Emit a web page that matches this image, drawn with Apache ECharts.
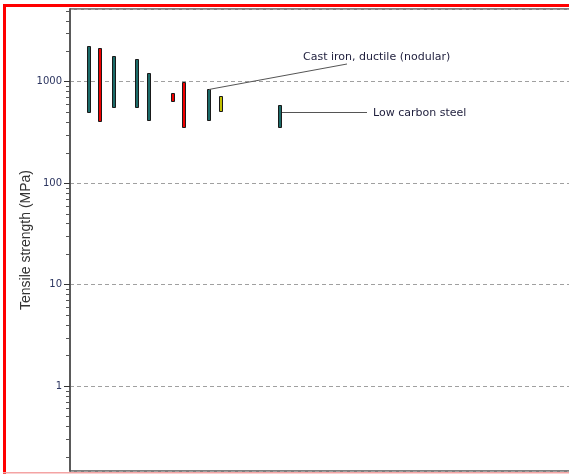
<!DOCTYPE html>
<html>
<head>
<meta charset="utf-8">
<script src="https://cdn.jsdelivr.net/npm/echarts@6/dist/echarts.min.js"></script>
<style>
  html, body { margin: 0; padding: 0; background: #fff; overflow: hidden; }
  #chart { width: 569px; height: 474px; }
</style>
</head>
<body>
<div id="chart"></div>
<script>
// Strength ranges (MPa) of the plotted materials; each bar runs from low to high
const xPos    = [3.8, 6.0, 8.8, 13.4, 15.8, 20.6, 22.8, 27.8, 30.2, 42.0];
const lowMPa  = [490, 400, 550, 550, 410, 625, 350, 410, 500, 350];
const highMPa = [2250, 2130, 1790, 1660, 1220, 780, 1000, 850, 720, 590];
// colour group of each bar: 0 teal, 1 red, 2 yellow
const group   = [0, 1, 0, 0, 0, 1, 1, 0, 2, 0];

// Labelled materials: index of the bar and the strength where the leader meets it
const calloutText  = ['Cast iron, ductile (nodular)', 'Low carbon steel'];
const calloutItem  = [7, 9];
const calloutValue = [850, 500];

// Log axis: major ticks and value range
const yTicks = [1, 10, 100, 1000];
const yMin = 0.145, yMax = 5200;

const groupColors = ['#1b6b69', '#f00000', '#c2c000'];

const chart = echarts.init(document.getElementById('chart'), null, { renderer: 'canvas' });

// minor ticks at 2..9 times each power of ten inside the range
const minorTicks = [];
for (let d = 0.1; d <= 1000; d *= 10) {
  for (let m = 2; m <= 9; m++) {
    const v = +(m * d).toPrecision(6);
    if (v > yMin && v < yMax) minorTicks.push([0, v]);
  }
}

const barData = xPos.map((x, i) => [x, lowMPa[i], highMPa[i], group[i]]);

chart.setOption({
  animation: false,
  backgroundColor: '#fff',
  grid: {
    left: 70, top: 9, right: -6, bottom: 3,
    outerBoundsMode: 'none',
    show: true, borderColor: '#000', borderWidth: 1, backgroundColor: 'transparent'
  },
  xAxis: {
    type: 'value', min: 0, max: 101,
    axisLine: { show: false }, axisTick: { show: false },
    axisLabel: { show: false }, splitLine: { show: false }
  },
  yAxis: {
    type: 'log', logBase: 10, min: yMin, max: yMax,
    name: 'Tensile strength (MPa)',
    nameLocation: 'middle', nameGap: 37, nameRotate: 90,
    nameMoveOverlap: false,
    nameTextStyle: { fontFamily: 'Liberation Sans', fontSize: 14, color: '#333' },
    axisLine: { show: true, lineStyle: { color: '#5a5a5a', width: 2 } },
    axisTick: { show: true, length: 6, lineStyle: { color: '#333', width: 1 } },
    axisLabel: {
      fontFamily: 'DejaVu Sans', fontSize: 10, color: '#2c3560', margin: 8,
      showMinLabel: false, showMaxLabel: false,
      formatter: v => {
        const r = +(+v).toPrecision(6);
        return yTicks.indexOf(r) >= 0 ? String(r) : '';
      }
    },
    splitLine: { show: true, lineStyle: { color: '#a0a0a0', type: [4, 3], width: 1 } }
  },
  series: [
    {
      type: 'custom',
      name: 'minor ticks',
      silent: true,
      clip: false,
      data: minorTicks,
      renderItem: (params, api) => {
        const p = api.coord([api.value(0), api.value(1)]);
        const y = Math.round(p[1]) + 0.5;
        return {
          type: 'line',
          shape: { x1: p[0] - 4, y1: y, x2: p[0], y2: y },
          style: { stroke: '#555', lineWidth: 1 }
        };
      }
    },
    {
      type: 'custom',
      name: 'strength',
      data: barData,
      encode: { x: 0, y: [1, 2] },
      renderItem: (params, api) => {
        const x = api.value(0);
        const top = api.coord([x, api.value(2)]);
        const bot = api.coord([x, api.value(1)]);
        const cx = Math.round(top[0]);
        const y0 = Math.round(top[1]) + 0.5;
        const y1 = Math.round(bot[1]) - 0.5;
        return {
          type: 'rect',
          shape: { x: cx - 1.5, y: y0, width: 3, height: y1 - y0 },
          style: { fill: groupColors[api.value(3)], stroke: '#1a1a1a', lineWidth: 1 }
        };
      }
    }
  ]
});

// Callout leaders and labels, anchored on the bars through the grid's scales
const anchor = i => chart.convertToPixel({ gridIndex: 0 }, [xPos[calloutItem[i]], calloutValue[i]]);
const a0 = anchor(0);
const a1 = anchor(1);
const leaderStyle = { stroke: '#555', lineWidth: 1 };
const labelStyle = { fontFamily: 'DejaVu Sans', fontSize: 11, fill: '#1e1e3c' };

chart.setOption({
  graphic: [
    // outer frame
    { type: 'line', shape: { x1: 4.5, y1: 4, x2: 4.5, y2: 474 }, style: { stroke: '#ff0000', lineWidth: 3 }, z: 100 },
    { type: 'line', shape: { x1: 3, y1: 5.5, x2: 569, y2: 5.5 }, style: { stroke: '#ff0000', lineWidth: 3 }, z: 100 },
    { type: 'line', shape: { x1: 3, y1: 472.8, x2: 569, y2: 472.8 }, style: { stroke: '#f4a4a4', lineWidth: 1.5 }, z: 100 },
    // cast iron leader
    {
      type: 'polyline',
      shape: { points: [[Math.round(a0[0]), Math.round(a0[1]) + 0.5], [Math.round(a0[0]) + 5, Math.round(a0[1]) - 0.5], [347, 64]] },
      style: Object.assign({ fill: null }, leaderStyle), z: 50
    },
    {
      type: 'text', x: 303, y: 57,
      style: Object.assign({ text: calloutText[0], verticalAlign: 'middle', align: 'left' }, labelStyle), z: 50
    },
    // low carbon steel leader
    {
      type: 'line',
      shape: { x1: Math.round(a1[0]) + 2, y1: Math.round(a1[1]) + 0.5, x2: 367, y2: Math.round(a1[1]) + 0.5 },
      style: leaderStyle, z: 50
    },
    {
      type: 'text', x: 373, y: Math.round(a1[1]) + 1,
      style: Object.assign({ text: calloutText[1], verticalAlign: 'middle', align: 'left' }, labelStyle), z: 50
    }
  ]
});
</script>
</body>
</html>
